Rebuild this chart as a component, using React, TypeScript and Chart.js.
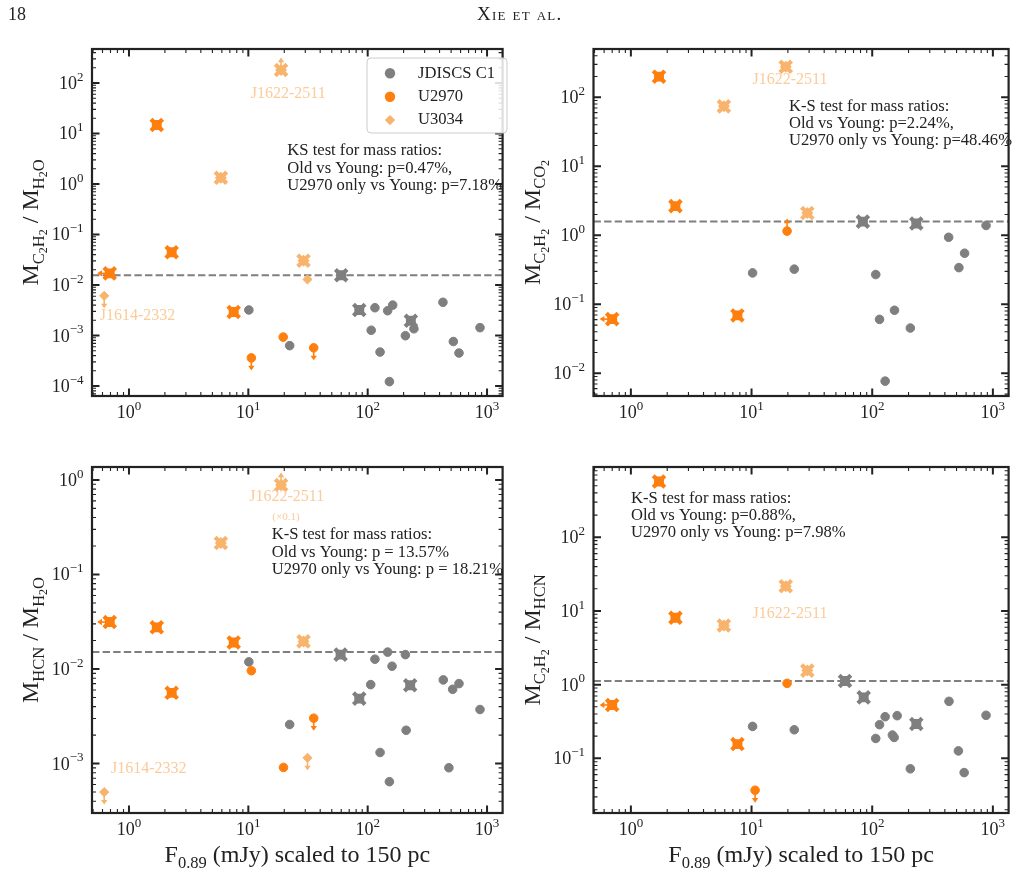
import React, { useEffect, useRef } from "react";
import { Chart, registerables } from "chart.js";

Chart.register(...registerables);

type Limit = "down" | "up" | "left";
type Pt = [number, number, Limit?];

// ---- shared flux axis -------------------------------------------------------
const FLUX_MIN = 0.49;
const FLUX_MAX = 1350;
const FLUX_EXPONENTS = [0, 1, 2, 3];

// ---- M(C2H2) / M(H2O) -------------------------------------------------------
const C2H2_H2O_JDISCS: Pt[] = [
  [10.1, 0.0032], [22.2, 0.00063], [107, 0.00127], [115, 0.00355], [127, 0.00047],
  [147, 0.0031], [152, 0.000122], [162, 0.004], [207, 0.00099], [244, 0.00136],
  [427, 0.00454], [522, 0.00076], [582, 0.00045], [873, 0.00143],
];
const C2H2_H2O_JDISCS_YOUNG: Pt[] = [[60, 0.0156], [85, 0.0032], [230, 0.00196]];
const C2H2_H2O_U2970: Pt[] = [[19.6, 0.00093], [10.6, 0.00036, "down"], [35.3, 0.00057, "down"]];
const C2H2_H2O_U2970_YOUNG: Pt[] = [[0.69, 0.017, "left"], [1.71, 14.7], [2.28, 0.0444], [7.54, 0.00292]];
const C2H2_H2O_U3034: Pt[] = [[31.3, 0.0129], [0.62, 0.0061, "down"]];
const C2H2_H2O_U3034_YOUNG: Pt[] = [[18.8, 181, "up"], [5.89, 1.33], [29, 0.0303]];
const C2H2_H2O_MEDIAN = 0.0156;
const C2H2_H2O_RANGE = [6.34e-5, 471];
const C2H2_H2O_EXPONENTS = [-4, -3, -2, -1, 0, 1, 2];
const C2H2_H2O_KS = ["KS test for mass ratios:", "Old vs Young: p=0.47%,", "U2970 only vs Young: p=7.18%"];

// ---- M(C2H2) / M(CO2) -------------------------------------------------------
const C2H2_CO2_JDISCS: Pt[] = [
  [10.2, 0.285], [22.6, 0.323], [107, 0.27], [115, 0.0605], [128, 0.0077], [153, 0.082],
  [207, 0.0453], [430, 0.935], [523, 0.34], [583, 0.55], [878, 1.39],
];
const C2H2_CO2_JDISCS_YOUNG: Pt[] = [[83.7, 1.58], [232, 1.48]];
const C2H2_CO2_U2970: Pt[] = [[19.7, 1.15, "up"]];
const C2H2_CO2_U2970_YOUNG: Pt[] = [[0.7, 0.061, "left"], [1.71, 199], [2.34, 2.65], [7.64, 0.069]];
const C2H2_CO2_U3034: Pt[] = [];
const C2H2_CO2_U3034_YOUNG: Pt[] = [[19.2, 277], [5.9, 73.9], [29, 2.1]];
const C2H2_CO2_MEDIAN = 1.58;
const C2H2_CO2_RANGE = [0.00469, 501];
const C2H2_CO2_EXPONENTS = [-2, -1, 0, 1, 2];
const C2H2_CO2_KS = ["K-S test for mass ratios:", "Old vs Young: p=2.24%,", "U2970 only vs Young: p=48.46%"];

// ---- M(HCN) / M(H2O) --------------------------------------------------------
const HCN_H2O_JDISCS: Pt[] = [
  [10.1, 0.0119], [22.2, 0.00259], [106, 0.00684], [115, 0.0127], [127, 0.00131],
  [147, 0.0151], [152, 0.000643], [160, 0.0107], [207, 0.0142], [210, 0.00225],
  [430, 0.00767], [479, 0.000903], [515, 0.0061], [582, 0.00701], [873, 0.00373],
];
const HCN_H2O_JDISCS_YOUNG: Pt[] = [[59.3, 0.0142], [85, 0.00486], [227, 0.00673]];
const HCN_H2O_U2970: Pt[] = [[10.6, 0.0096], [19.7, 0.00091], [35.3, 0.00302, "down"]];
const HCN_H2O_U2970_YOUNG: Pt[] = [[0.69, 0.0314, "left"], [1.71, 0.0276], [2.28, 0.0056], [7.54, 0.0191]];
const HCN_H2O_U3034: Pt[] = [[31.3, 0.00115, "down"], [0.62, 0.000499, "down"]];
const HCN_H2O_U3034_YOUNG: Pt[] = [[18.8, 0.885, "up"], [5.89, 0.215], [29, 0.0196]];
const HCN_H2O_MEDIAN = 0.0151;
const HCN_H2O_RANGE = [3.04e-4, 1.37];
const HCN_H2O_EXPONENTS = [-3, -2, -1, 0];
const HCN_H2O_KS = ["K-S test for mass ratios:", "Old vs Young: p = 13.57%", "U2970 only vs Young: p = 18.21%"];

// ---- M(C2H2) / M(HCN) -------------------------------------------------------
const C2H2_HCN_JDISCS: Pt[] = [
  [10.2, 0.271], [22.6, 0.244], [107, 0.186], [115, 0.286], [128, 0.367], [147, 0.207],
  [152, 0.192], [161, 0.379], [207, 0.072], [433, 0.593], [518, 0.126], [578, 0.064], [878, 0.383],
];
const C2H2_HCN_JDISCS_YOUNG: Pt[] = [[59.5, 1.12], [85, 0.672], [232, 0.292]];
const C2H2_HCN_U2970: Pt[] = [[19.7, 1.04], [10.7, 0.0369, "down"]];
const C2H2_HCN_U2970_YOUNG: Pt[] = [[0.7, 0.529, "left"], [1.71, 572], [2.34, 8.08], [7.64, 0.156]];
const C2H2_HCN_U3034: Pt[] = [];
const C2H2_HCN_U3034_YOUNG: Pt[] = [[19.2, 21.7], [5.9, 6.35], [29, 1.55]];
const C2H2_HCN_MEDIAN = 1.12;
const C2H2_HCN_RANGE = [0.0181, 899];
const C2H2_HCN_EXPONENTS = [-1, 0, 1, 2];
const C2H2_HCN_KS = ["K-S test for mass ratios:", "Old vs Young: p=0.88%,", "U2970 only vs Young: p=7.98%"];

const SERIES_NAMES = ["JDISCS C1", "U2970", "U3034"];

// ---- styling ----------------------------------------------------------------
const SERIF = '"Liberation Serif", "Times New Roman", "DejaVu Serif", serif';
const GRAY = "#7f7f7f";
const ORANGE = "#ff7f0e";
const LIGHT = "#f8b46c";
const LABEL = "#fbcb9a";
const INK = "#222222";
const TEXT_SIZE = 16.6;

type Run = [string, number, number];
const T = 24, S = 16.5, SS = 12, DS = 5.5, DSS = 9;

const C2H2: Run[] = [["C", S, DS], ["2", SS, DSS], ["H", S, DS], ["2", SS, DSS]];
const H2O: Run[] = [["H", S, DS], ["2", SS, DSS], ["O", S, DS]];
const CO2: Run[] = [["C", S, DS], ["O", S, DS], ["2", SS, DSS]];
const HCN: Run[] = [["HCN", S, DS]];
const ratioTitle = (a: Run[], b: Run[]): Run[] => [["M", T, 0], ...a, [" / M", T, 0], ...b];
const X_TITLE: Run[] = [["F", T, 0], ["0.89", S, DS], [" (mJy) scaled to 150 pc", T, 0]];

interface Box { left: number; top: number; width: number; height: number }
interface Area { left: number; top: number; right: number; bottom: number }
interface Note { text: string; dx: number; dy: number; size: number; color: string; align: CanvasTextAlign }
interface Panel {
  key: string;
  box: Box;
  area: Area;
  range: number[];
  exps: number[];
  median: number;
  jdiscs: Pt[]; jdiscsYoung: Pt[];
  u2970: Pt[]; u2970Young: Pt[];
  u3034: Pt[]; u3034Young: Pt[];
  yTitle: Run[];
  xTitle: boolean;
  ks: string[];
  ksAt: [number, number];
  notes: Note[];
  legend: boolean;
}

const PANELS: Panel[] = [
  {
    key: "c2h2_h2o",
    box: { left: 0, top: 0, width: 515, height: 447 },
    area: { left: 92, top: 49, right: 509, bottom: 396 },
    range: C2H2_H2O_RANGE, exps: C2H2_H2O_EXPONENTS, median: C2H2_H2O_MEDIAN,
    jdiscs: C2H2_H2O_JDISCS, jdiscsYoung: C2H2_H2O_JDISCS_YOUNG,
    u2970: C2H2_H2O_U2970, u2970Young: C2H2_H2O_U2970_YOUNG,
    u3034: C2H2_H2O_U3034, u3034Young: C2H2_H2O_U3034_YOUNG,
    yTitle: ratioTitle(C2H2, H2O), xTitle: false,
    ks: C2H2_H2O_KS, ksAt: [195.3, 102],
    notes: [
      { text: "J1622-2511", dx: 196.3, dy: 44.3, size: 16, color: LABEL, align: "center" },
      { text: "J1614-2332", dx: 45.5, dy: 266.7, size: 16, color: LABEL, align: "center" },
    ],
    legend: true,
  },
  {
    key: "c2h2_co2",
    box: { left: 515, top: 0, width: 506, height: 447 },
    area: { left: 593.5, top: 49, right: 1010.5, bottom: 396 },
    range: C2H2_CO2_RANGE, exps: C2H2_CO2_EXPONENTS, median: C2H2_CO2_MEDIAN,
    jdiscs: C2H2_CO2_JDISCS, jdiscsYoung: C2H2_CO2_JDISCS_YOUNG,
    u2970: C2H2_CO2_U2970, u2970Young: C2H2_CO2_U2970_YOUNG,
    u3034: C2H2_CO2_U3034, u3034Young: C2H2_CO2_U3034_YOUNG,
    yTitle: ratioTitle(C2H2, CO2), xTitle: false,
    ks: C2H2_CO2_KS, ksAt: [195.5, 57.7],
    notes: [{ text: "J1622-2511", dx: 196.5, dy: 30.3, size: 16, color: LABEL, align: "center" }],
    legend: false,
  },
  {
    key: "hcn_h2o",
    box: { left: 0, top: 447, width: 515, height: 447 },
    area: { left: 92, top: 467, right: 509, bottom: 813 },
    range: HCN_H2O_RANGE, exps: HCN_H2O_EXPONENTS, median: HCN_H2O_MEDIAN,
    jdiscs: HCN_H2O_JDISCS, jdiscsYoung: HCN_H2O_JDISCS_YOUNG,
    u2970: HCN_H2O_U2970, u2970Young: HCN_H2O_U2970_YOUNG,
    u3034: HCN_H2O_U3034, u3034Young: HCN_H2O_U3034_YOUNG,
    yTitle: ratioTitle(HCN, H2O), xTitle: true,
    ks: HCN_H2O_KS, ksAt: [179.7, 68],
    notes: [
      { text: "J1622-2511", dx: 194.7, dy: 29.7, size: 16, color: LABEL, align: "center" },
      { text: "(\u00d70.1)", dx: 194, dy: 50.3, size: 11, color: LABEL, align: "center" },
      { text: "J1614-2332", dx: 56.7, dy: 302, size: 16, color: LABEL, align: "center" },
    ],
    legend: false,
  },
  {
    key: "c2h2_hcn",
    box: { left: 515, top: 447, width: 506, height: 447 },
    area: { left: 593.5, top: 467, right: 1010.5, bottom: 813 },
    range: C2H2_HCN_RANGE, exps: C2H2_HCN_EXPONENTS, median: C2H2_HCN_MEDIAN,
    jdiscs: C2H2_HCN_JDISCS, jdiscsYoung: C2H2_HCN_JDISCS_YOUNG,
    u2970: C2H2_HCN_U2970, u2970Young: C2H2_HCN_U2970_YOUNG,
    u3034: C2H2_HCN_U3034, u3034Young: C2H2_HCN_U3034_YOUNG,
    yTitle: ratioTitle(C2H2, HCN), xTitle: true,
    ks: C2H2_HCN_KS, ksAt: [37.5, 31.3],
    notes: [{ text: "J1622-2511", dx: 196.5, dy: 147, size: 16, color: LABEL, align: "center" }],
    legend: false,
  },
];

// ---- canvas helpers ---------------------------------------------------------
function runsWidth(ctx: CanvasRenderingContext2D, runs: Run[]) {
  let w = 0;
  for (const [t, s] of runs) {
    ctx.font = `${s}px ${SERIF}`;
    w += ctx.measureText(t).width;
  }
  return w;
}

function drawRuns(ctx: CanvasRenderingContext2D, runs: Run[], x: number, y: number, align: "left" | "center" | "right") {
  const w = runsWidth(ctx, runs);
  let cx = align === "left" ? x : align === "center" ? x - w / 2 : x - w;
  ctx.textAlign = "left";
  ctx.textBaseline = "alphabetic";
  for (const [t, s, dy] of runs) {
    ctx.font = `${s}px ${SERIF}`;
    ctx.fillText(t, cx, y + dy);
    cx += ctx.measureText(t).width;
  }
}

const powerLabel = (e: number): Run[] => [["10", 18, 0], [e < 0 ? `\u2212${-e}` : String(e), 13, -8.2]];

function drawLimitArrow(ctx: CanvasRenderingContext2D, x: number, y: number, dir: Limit, color: string) {
  const len = 11, head = 3.2;
  const dx = dir === "left" ? -1 : 0;
  const dy = dir === "down" ? 1 : dir === "up" ? -1 : 0;
  const ex = x + dx * len, ey = y + dy * len;
  const px = -dy, py = dx;
  ctx.save();
  ctx.strokeStyle = color;
  ctx.fillStyle = color;
  ctx.lineWidth = 1.6;
  ctx.beginPath();
  ctx.moveTo(x, y);
  ctx.lineTo(ex, ey);
  ctx.stroke();
  ctx.beginPath();
  ctx.moveTo(ex + dx * 1.5, ey + dy * 1.5);
  ctx.lineTo(ex - dx * head + px * head, ey - dy * head + py * head);
  ctx.lineTo(ex - dx * head - px * head, ey - dy * head - py * head);
  ctx.closePath();
  ctx.fill();
  ctx.restore();
}

function minorValues(min: number, max: number) {
  const out: { v: number; major: boolean }[] = [];
  for (let e = Math.floor(Math.log10(min)); e <= Math.ceil(Math.log10(max)); e++) {
    for (let k = 1; k <= 9; k++) {
      const v = k * Math.pow(10, e);
      if (v >= min * 0.9999 && v <= max * 1.0001) out.push({ v, major: k === 1 });
    }
  }
  return out;
}

function makeDecor(p: Panel) {
  const groups: { pts: Pt[]; color: string }[] = [
    { pts: [...p.jdiscs, ...p.jdiscsYoung], color: GRAY },
    { pts: [...p.u2970, ...p.u2970Young], color: ORANGE },
    { pts: [...p.u3034, ...p.u3034Young], color: LIGHT },
  ];
  return {
    id: "decor_" + p.key,
    afterDatasetsDraw(chart: Chart) {
      const ctx = chart.ctx;
      const xs = chart.scales.x, ys = chart.scales.y;
      for (const g of groups) {
        for (const [x, y, lim] of g.pts) {
          if (lim) drawLimitArrow(ctx, xs.getPixelForValue(x), ys.getPixelForValue(y), lim, g.color);
        }
      }
    },
    afterDraw(chart: Chart) {
      const ctx = chart.ctx;
      const a = chart.chartArea;
      const xs = chart.scales.x, ys = chart.scales.y;
      ctx.save();

      // inward ticks on all four sides
      ctx.strokeStyle = INK;
      for (const { v, major } of minorValues(FLUX_MIN, FLUX_MAX)) {
        const x = xs.getPixelForValue(v);
        const len = major ? 7.5 : 4;
        ctx.lineWidth = major ? 2 : 1.1;
        ctx.beginPath();
        ctx.moveTo(x, a.bottom); ctx.lineTo(x, a.bottom - len);
        ctx.moveTo(x, a.top); ctx.lineTo(x, a.top + len);
        ctx.stroke();
      }
      for (const { v, major } of minorValues(p.range[0], p.range[1])) {
        const y = ys.getPixelForValue(v);
        const len = major ? 7.5 : 4;
        ctx.lineWidth = major ? 2 : 1.1;
        ctx.beginPath();
        ctx.moveTo(a.left, y); ctx.lineTo(a.left + len, y);
        ctx.moveTo(a.right, y); ctx.lineTo(a.right - len, y);
        ctx.stroke();
      }

      // frame
      ctx.lineWidth = 2.2;
      ctx.strokeRect(a.left, a.top, a.right - a.left, a.bottom - a.top);

      // tick labels
      ctx.fillStyle = INK;
      for (const e of FLUX_EXPONENTS) {
        drawRuns(ctx, powerLabel(e), xs.getPixelForValue(Math.pow(10, e)), a.bottom + 22.3, "center");
      }
      for (const e of p.exps) {
        drawRuns(ctx, powerLabel(e), a.left - 8.5, ys.getPixelForValue(Math.pow(10, e)) + 6, "right");
      }

      // axis titles
      ctx.save();
      ctx.translate(a.left - 53.7, (a.top + a.bottom) / 2);
      ctx.rotate(-Math.PI / 2);
      drawRuns(ctx, p.yTitle, 0, 0, "center");
      ctx.restore();
      if (p.xTitle) drawRuns(ctx, X_TITLE, (a.left + a.right) / 2, a.bottom + 49, "center");

      // statistics text
      ctx.font = `${TEXT_SIZE}px ${SERIF}`;
      ctx.textAlign = "left";
      ctx.textBaseline = "middle";
      p.ks.forEach((line, i) => ctx.fillText(line, a.left + p.ksAt[0], a.top + p.ksAt[1] + i * 17.2));

      // source labels
      for (const n of p.notes) {
        ctx.font = `${n.size}px ${SERIF}`;
        ctx.fillStyle = n.color;
        ctx.textAlign = n.align;
        ctx.textBaseline = "middle";
        ctx.fillText(n.text, a.left + n.dx, a.top + n.dy);
      }

      // legend
      if (p.legend) {
        const lx = a.left + 275, ly = a.top + 9, lw = 140, lh = 75;
        ctx.beginPath();
        ctx.roundRect(lx, ly, lw, lh, 4);
        ctx.fillStyle = "rgba(255,255,255,0.85)";
        ctx.fill();
        ctx.strokeStyle = "#cccccc";
        ctx.lineWidth = 1;
        ctx.stroke();
        const colors = [GRAY, ORANGE, LIGHT];
        SERIES_NAMES.forEach((name, i) => {
          const cy = a.top + 24.3 + i * 23.4;
          const cx = a.left + 298;
          ctx.fillStyle = colors[i];
          ctx.beginPath();
          if (i < 2) {
            ctx.arc(cx, cy, 5.2, 0, Math.PI * 2);
          } else {
            ctx.moveTo(cx, cy - 5.2); ctx.lineTo(cx + 5.2, cy); ctx.lineTo(cx, cy + 5.2); ctx.lineTo(cx - 5.2, cy);
            ctx.closePath();
          }
          ctx.fill();
          ctx.fillStyle = INK;
          ctx.font = `${TEXT_SIZE}px ${SERIF}`;
          ctx.textAlign = "left";
          ctx.textBaseline = "middle";
          ctx.fillText(name, a.left + 326, cy);
        });
      }
      ctx.restore();
    },
  };
}

function markerSet(pts: Pt[], style: string, color: string, radius: number, border: number, order: number) {
  return {
    type: "scatter" as const,
    data: pts.map(([x, y]) => ({ x, y })),
    pointStyle: style,
    pointRadius: radius,
    pointHoverRadius: radius,
    pointBackgroundColor: color,
    pointBorderColor: color,
    pointBorderWidth: border,
    showLine: false,
    order,
  };
}

function PanelChart({ panel }: { panel: Panel }) {
  const ref = useRef<HTMLCanvasElement>(null);
  useEffect(() => {
    const p = panel;
    const datasets: any[] = [
      {
        type: "line",
        data: [{ x: FLUX_MIN, y: p.median }, { x: FLUX_MAX, y: p.median }],
        borderColor: GRAY,
        borderWidth: 2,
        borderDash: [7.4, 3.2],
        pointRadius: 0,
        order: 20,
      },
      markerSet(p.jdiscs, "circle", GRAY, 4.3, 1, 12),
      markerSet(p.jdiscsYoung, "rect", GRAY, 7, 0, 11),
      markerSet(p.jdiscsYoung, "crossRot", GRAY, 8.2, 4.2, 10),
      markerSet(p.u3034, "rectRot", LIGHT, 4.6, 1, 9),
      markerSet(p.u3034Young, "rectRot", LIGHT, 6, 0, 8),
      markerSet(p.u3034Young, "crossRot", LIGHT, 8.2, 4.2, 7),
      markerSet(p.u2970, "circle", ORANGE, 4.3, 1, 6),
      markerSet(p.u2970Young, "rect", ORANGE, 7, 0, 5),
      markerSet(p.u2970Young, "crossRot", ORANGE, 8.2, 4.2, 4),
    ];
    const { box, area } = p;
    const chart = new Chart(ref.current as HTMLCanvasElement, {
      type: "scatter",
      data: { datasets },
      options: {
        animation: false,
        responsive: false,
        maintainAspectRatio: false,
        devicePixelRatio: 1,
        events: [],
        layout: {
          padding: {
            left: area.left - box.left,
            top: area.top - box.top,
            right: box.left + box.width - area.right,
            bottom: box.top + box.height - area.bottom,
          },
        },
        scales: {
          x: { type: "logarithmic", min: FLUX_MIN, max: FLUX_MAX, display: false },
          y: { type: "logarithmic", min: p.range[0], max: p.range[1], display: false },
        },
        plugins: { legend: { display: false }, tooltip: { enabled: false } },
      },
      plugins: [makeDecor(p)],
    } as any);
    return () => chart.destroy();
  }, [panel]);
  return (
    <canvas
      ref={ref}
      width={panel.box.width}
      height={panel.box.height}
      style={{
        position: "absolute",
        left: panel.box.left,
        top: panel.box.top,
        width: panel.box.width,
        height: panel.box.height,
      }}
    />
  );
}

export default function App() {
  return (
    <div
      style={{
        position: "absolute",
        left: 0,
        top: 0,
        width: 1021,
        height: 894,
        background: "#ffffff",
        fontFamily: SERIF,
        color: INK,
        overflow: "hidden",
      }}
    >
      {PANELS.map((p) => (
        <PanelChart key={p.key} panel={p} />
      ))}
      <div style={{ position: "absolute", left: 8, top: 3, fontSize: 18, lineHeight: "22px", zIndex: 2 }}>18</div>
      <div
        style={{
          position: "absolute",
          left: 477,
          top: 3,
          fontSize: 19,
          lineHeight: "22px",
          fontVariant: "small-caps",
          letterSpacing: 1.2,
          zIndex: 2,
        }}
      >
        Xie et al.
      </div>
    </div>
  );
}
